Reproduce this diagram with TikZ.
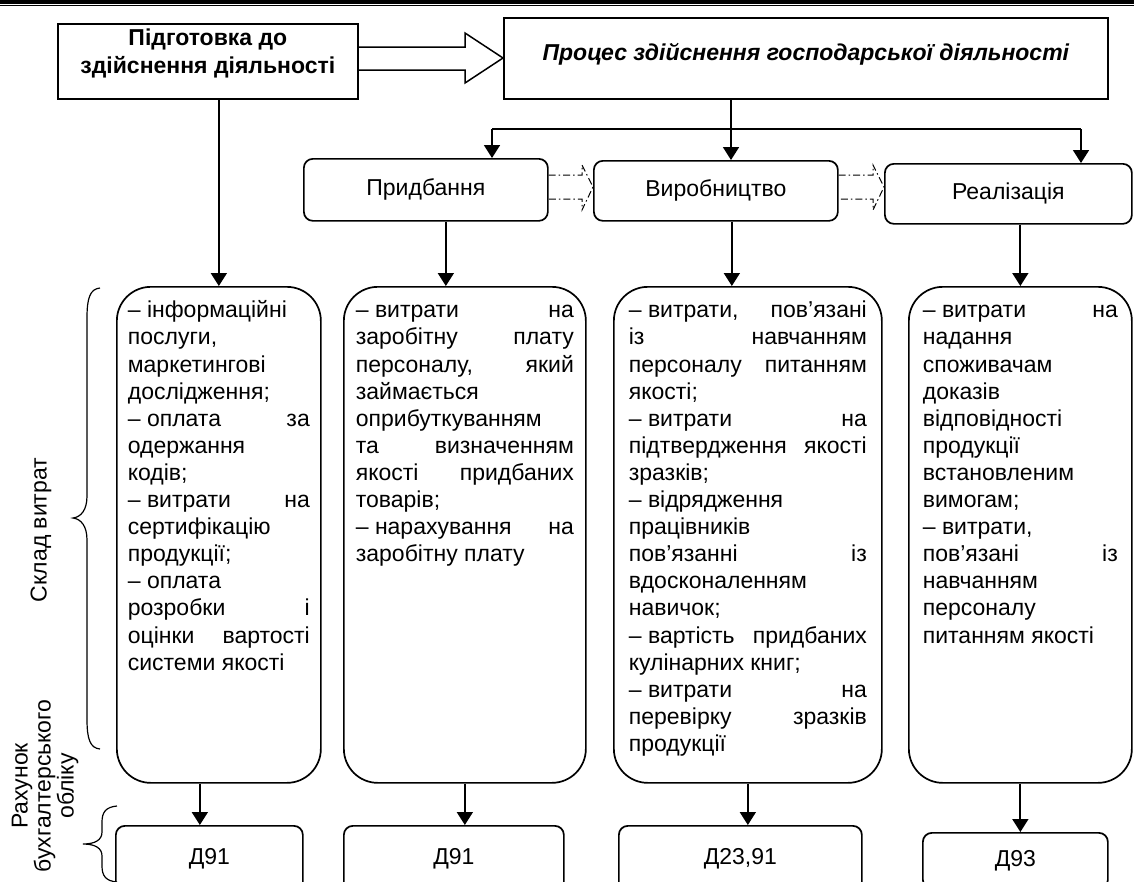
\documentclass[tikz,border=0pt]{standalone}
\usepackage{fontspec}
\setmainfont{Liberation Sans}
\usetikzlibrary{arrows.meta,calc}

\newcommand{\costtext}[2]{\parbox[c][472pt][t]{#1}{\strut#2}}

\begin{document}
\begin{tikzpicture}[x=1pt,y=-1pt]
		\tikzstyle{every node}=[font=\fontsize{23}{27.1}\selectfont, inner sep=0pt]
		\tikzstyle{topbox}=[draw, line width=1.7pt, anchor=north west]
		\tikzstyle{stage}=[draw, line width=1.7pt, rounded corners=9pt, anchor=north west, text height=16pt, text depth=5pt]
		\tikzstyle{costbox}=[draw, line width=1.7pt, rounded corners=34pt, anchor=north west, minimum height=496pt]
		\tikzstyle{account}=[draw, line width=1.7pt, rounded corners=9pt, anchor=north west, text height=16pt, text depth=5pt]
		\tikzstyle{arr}=[line width=1.8pt, -{Triangle[length=13pt,width=16pt]}]
		\tikzstyle{feed}=[line width=1.3pt]
		\tikzstyle{flowarr}=[line width=1pt, dash pattern=on 7pt off 3pt on 1.5pt off 3pt]
		
		\useasboundingbox (0,0) rectangle (1134,881);
		
		% double rule
		\draw[line width=4pt] (0,2) -- (1134,2);
		\draw[line width=1.2pt] (0,5.7) -- (1134,5.7);
		
		\node[topbox, minimum width=300pt, minimum height=75pt] (prep) at (57,23) {\parbox[c][71pt][t]{290pt}{\centering\fontsize{23}{28}\selectfont\bfseries\strut Підготовка до\\здійснення діяльності}};
		\node[topbox, minimum width=604pt, minimum height=81pt, text height=17pt, text depth=12pt, font=\fontsize{23}{27}\selectfont\bfseries\itshape] (proc) at (503,17) {Процес здійснення господарської діяльності};
		
		\draw[line width=1.5pt] (prep.east |- 0,47) -- (465,47) -- (465,33) -- (proc.west |- 0,58) -- (465,83) -- (465,70) -- (prep.east |- 0,70);
		
		\node[stage, minimum width=244pt, minimum height=62pt] (buy) at (303,158) {Придбання};
		\node[stage, minimum width=244pt, minimum height=60pt] (make) at (593,160) {Виробництво};
		\node[stage, minimum width=247pt, minimum height=60pt] (sell) at (884,163) {Реалізація};
		
		\coordinate (forkL) at (492,129);
		\coordinate (forkM) at (731,129);
		\coordinate (forkR) at (1081,129);
		\draw[feed] (proc.south -| forkM) -- (forkM);
		\draw[feed] (forkL) -- (forkR);
		\draw[arr] (forkL) -- (forkL |- buy.north);
		\draw[arr] (forkM) -- (forkM |- make.north);
		\draw[arr] (forkR) -- (forkR |- sell.north);
		
		\draw[flowarr] (buy.east |- 0,175) -- (582,175) -- (582,165) -- (make.west |- 0,187) -- (582,210) -- (582,199) -- (buy.east |- 0,199);
		\draw[flowarr] (make.east |- 0,175) -- (873,175) -- (873,165) -- (sell.west |- 0,187) -- (873,210) -- (873,199) -- (make.east |- 0,199);
		
		\node[costbox, minimum width=204pt] (cost1) at (116,286) {\costtext{182pt}{%
				–~інформаційні\\
				послуги,\\
				маркетингові\\
				дослідження;\\
				–~оплата\hfill за\\
				одержання\\
				кодів;\\
				–~витрати\hfill на\\
				сертифікацію\\
				продукції;\\
				–~оплата\\
				розробки\hfill і\\
				оцінки\hfill вартості\\
				системи якості}};
		\node[costbox, minimum width=242pt] (cost2) at (343,286) {\costtext{218pt}{%
				–~витрати\hfill на\\
				заробітну\hfill плату\\
				персоналу,\hfill який\\
				займається\\
				оприбуткуванням\\
				та\hfill визначенням\\
				якості\hfill придбаних\\
				товарів;\\
				–~нарахування\hfill на\\
				заробітну плату}};
		\node[costbox, minimum width=268pt] (cost3) at (613,286) {\costtext{238pt}{%
				–~витрати,\hfill пов’язані\\
				із\hfill навчанням\\
				персоналу\hfill питанням\\
				якості;\\
				–~витрати\hfill на\\
				підтвердження\hfill якості\\
				зразків;\\
				–~відрядження\\
				працівників\\
				пов’язанні\hfill із\\
				вдосконаленням\\
				навичок;\\
				–~вартість\hfill придбаних\\
				кулінарних книг;\\
				–~витрати\hfill на\\
				перевірку\hfill зразків\\
				продукції}};
		\node[costbox, minimum width=223pt] (cost4) at (908,286) {\costtext{195pt}{%
				–~витрати\hfill на\\
				надання\\
				споживачам\\
				доказів\\
				відповідності\\
				продукції\\
				встановленим\\
				вимогам;\\
				–~витрати,\\
				пов’язані\hfill із\\
				навчанням\\
				персоналу\\
				питанням якості}};
		
		\draw[arr] (prep.south -| cost1.north) -- (cost1.north);
		\draw[arr] ([xshift=20pt]buy.south) -- ([xshift=20pt]buy.south |- cost2.north);
		\draw[arr] ([xshift=16pt]make.south) -- ([xshift=16pt]make.south |- cost3.north);
		\draw[arr] (sell.south -| cost4.north) -- (cost4.north);
		
		\node[account, minimum width=187pt, minimum height=66pt] (acc1) at (115,825) {Д91};
		\node[account, minimum width=220pt, minimum height=66pt] (acc2) at (343,825) {Д91};
		\node[account, minimum width=243pt, minimum height=66pt] (acc3) at (618,825) {Д23,91};
		\node[account, minimum width=185pt, minimum height=56pt] (acc4) at (922,832) {Д93};
		
		\draw[arr] ([xshift=-19pt]cost1.south) -- ([xshift=-19pt]cost1.south |- acc1.north);
		\draw[arr] (cost2.south) -- (cost2.south |- acc2.north);
		\draw[arr] (cost3.south) -- (cost3.south |- acc3.north);
		\draw[arr] (cost4.south) -- (cost4.south |- acc4.north);
		
		% braces on the left
		\draw[line width=1.2pt] (100,288) .. controls (90,289) and (87,298) .. (87,318) -- (87,496) .. controls (87,510) and (81,517) .. (73,518) .. controls (81,519) and (87,526) .. (87,540) -- (87,719) .. controls (87,739) and (90,748) .. (100,749);
		\draw[line width=1.2pt] (117,806) .. controls (106,807) and (102,812) .. (102,822) -- (102,832) .. controls (102,840) and (95,844) .. (83,844) .. controls (95,844) and (102,848) .. (102,856) -- (102,866) .. controls (102,876) and (106,881) .. (117,882);
		
		\node[rotate=90] (costlabel) at (41,530) {Склад витрат};
		\node[rotate=90, align=center, font=\fontsize{23}{23}\selectfont] (acclabel) at (45,786) {Рахунок\\бухгалтерського\\обліку};
		
\end{tikzpicture}
\end{document}
